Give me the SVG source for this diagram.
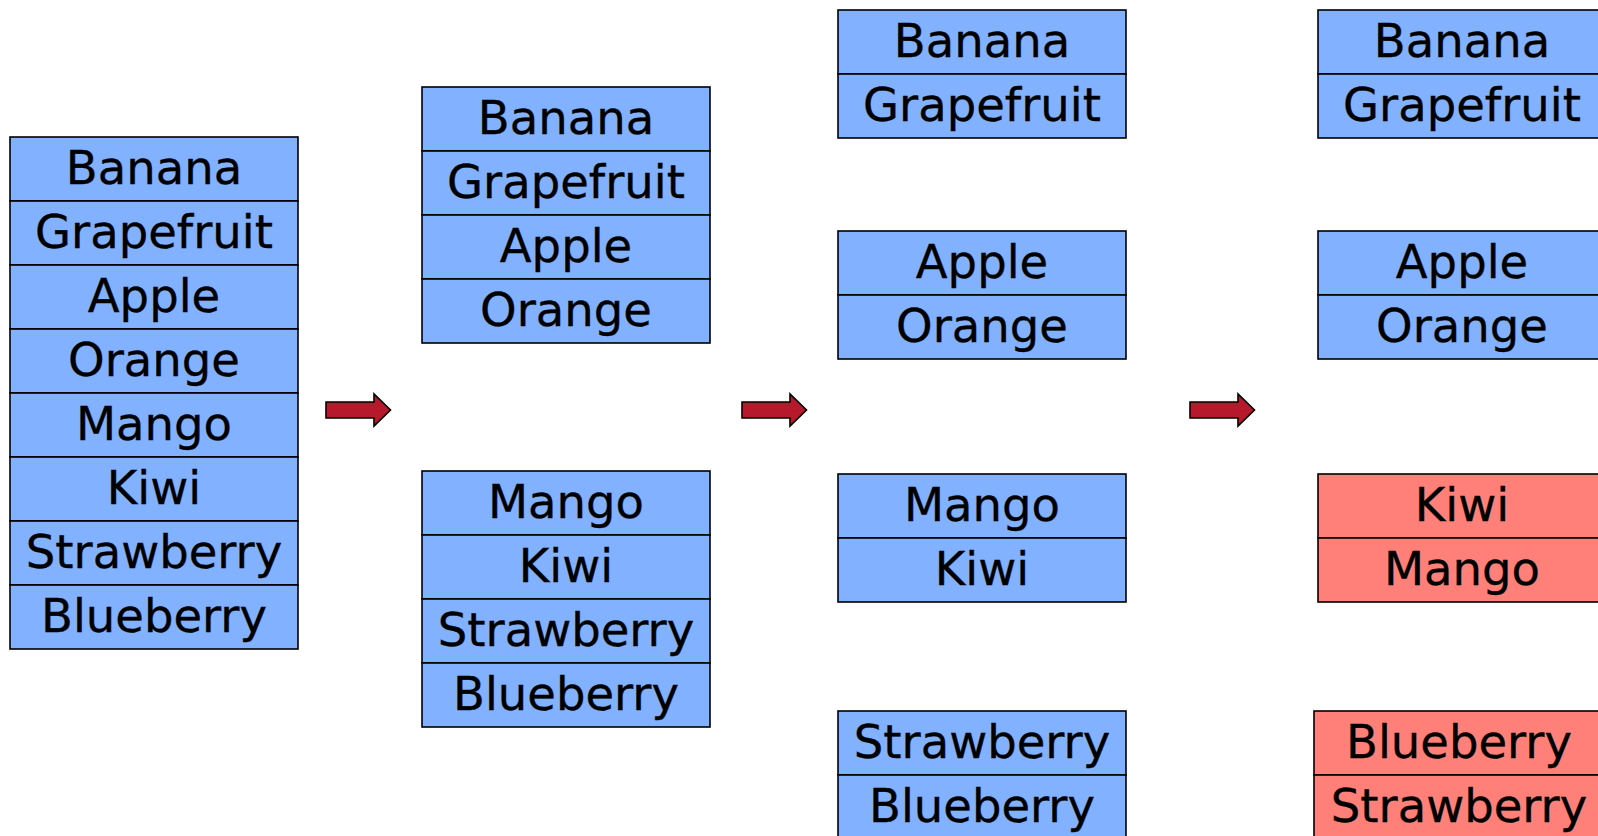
<svg xmlns="http://www.w3.org/2000/svg" width="1598" height="836" viewBox="0 0 1598 836">
<style>
.b{fill:#82B1FF;stroke:#000;stroke-width:1.6}
.r{fill:#FF8078;stroke:#000;stroke-width:1.6}
.t{font-family:"DejaVu Sans",Verdana,sans-serif;font-size:46.5px;fill:#000;stroke:#000;stroke-width:0.35;text-anchor:middle}
.a{fill:#B5192B;stroke:#000;stroke-width:1.6;stroke-linejoin:miter}
</style>
<rect width="1598" height="836" fill="#fff"/>
<g id="col1">
<g id="c1-banana"><rect class="b" x="10" y="137" width="288" height="64"/><text class="t" x="154" y="184">Banana</text></g>
<g id="c1-grapefruit"><rect class="b" x="10" y="201" width="288" height="64"/><text class="t" x="154" y="248">Grapefruit</text></g>
<g id="c1-apple"><rect class="b" x="10" y="265" width="288" height="64"/><text class="t" x="154" y="312">Apple</text></g>
<g id="c1-orange"><rect class="b" x="10" y="329" width="288" height="64"/><text class="t" x="154" y="376">Orange</text></g>
<g id="c1-mango"><rect class="b" x="10" y="393" width="288" height="64"/><text class="t" x="154" y="440">Mango</text></g>
<g id="c1-kiwi"><rect class="b" x="10" y="457" width="288" height="64"/><text class="t" x="154" y="504">Kiwi</text></g>
<g id="c1-strawberry"><rect class="b" x="10" y="521" width="288" height="64"/><text class="t" x="154" y="568">Strawberry</text></g>
<g id="c1-blueberry"><rect class="b" x="10" y="585" width="288" height="64"/><text class="t" x="154" y="632">Blueberry</text></g>
</g>
<g id="col2">
<g id="c2-banana"><rect class="b" x="422" y="87" width="288" height="64"/><text class="t" x="566" y="134">Banana</text></g>
<g id="c2-grapefruit"><rect class="b" x="422" y="151" width="288" height="64"/><text class="t" x="566" y="198">Grapefruit</text></g>
<g id="c2-apple"><rect class="b" x="422" y="215" width="288" height="64"/><text class="t" x="566" y="262">Apple</text></g>
<g id="c2-orange"><rect class="b" x="422" y="279" width="288" height="64"/><text class="t" x="566" y="326">Orange</text></g>
<g id="c2-mango"><rect class="b" x="422" y="471" width="288" height="64"/><text class="t" x="566" y="518">Mango</text></g>
<g id="c2-kiwi"><rect class="b" x="422" y="535" width="288" height="64"/><text class="t" x="566" y="582">Kiwi</text></g>
<g id="c2-strawberry"><rect class="b" x="422" y="599" width="288" height="64"/><text class="t" x="566" y="646">Strawberry</text></g>
<g id="c2-blueberry"><rect class="b" x="422" y="663" width="288" height="64"/><text class="t" x="566" y="710">Blueberry</text></g>
</g>
<g id="col3">
<g id="c3-banana"><rect class="b" x="838" y="10" width="288" height="64"/><text class="t" x="982" y="57">Banana</text></g>
<g id="c3-grapefruit"><rect class="b" x="838" y="74" width="288" height="64"/><text class="t" x="982" y="121">Grapefruit</text></g>
<g id="c3-apple"><rect class="b" x="838" y="231" width="288" height="64"/><text class="t" x="982" y="278">Apple</text></g>
<g id="c3-orange"><rect class="b" x="838" y="295" width="288" height="64"/><text class="t" x="982" y="342">Orange</text></g>
<g id="c3-mango"><rect class="b" x="838" y="474" width="288" height="64"/><text class="t" x="982" y="521">Mango</text></g>
<g id="c3-kiwi"><rect class="b" x="838" y="538" width="288" height="64"/><text class="t" x="982" y="585">Kiwi</text></g>
<g id="c3-strawberry"><rect class="b" x="838" y="711" width="288" height="64"/><text class="t" x="982" y="758">Strawberry</text></g>
<g id="c3-blueberry"><rect class="b" x="838" y="775" width="288" height="64"/><text class="t" x="982" y="822">Blueberry</text></g>
</g>
<g id="col4">
<g id="c4-banana"><rect class="b" x="1318" y="10" width="288" height="64"/><text class="t" x="1462" y="57">Banana</text></g>
<g id="c4-grapefruit"><rect class="b" x="1318" y="74" width="288" height="64"/><text class="t" x="1462" y="121">Grapefruit</text></g>
<g id="c4-apple"><rect class="b" x="1318" y="231" width="288" height="64"/><text class="t" x="1462" y="278">Apple</text></g>
<g id="c4-orange"><rect class="b" x="1318" y="295" width="288" height="64"/><text class="t" x="1462" y="342">Orange</text></g>
<g id="c4-kiwi"><rect class="r" x="1318" y="474" width="288" height="64"/><text class="t" x="1462" y="521">Kiwi</text></g>
<g id="c4-mango"><rect class="r" x="1318" y="538" width="288" height="64"/><text class="t" x="1462" y="585">Mango</text></g>
<g id="c4-blueberry"><rect class="r" x="1314" y="711" width="292" height="64"/><text class="t" x="1459" y="758">Blueberry</text></g>
<g id="c4-strawberry"><rect class="r" x="1314" y="775" width="292" height="64"/><text class="t" x="1459" y="822">Strawberry</text></g>
</g>
<g id="connectors">
<path class="a" d="M326,402 H374 V394 L390.5,410 L374,426 V418 H326 Z"/>
<path class="a" d="M742,402 H790 V394 L806.5,410 L790,426 V418 H742 Z"/>
<path class="a" d="M1190,402 H1238 V394 L1254.5,410 L1238,426 V418 H1190 Z"/>
</g>
</svg>
